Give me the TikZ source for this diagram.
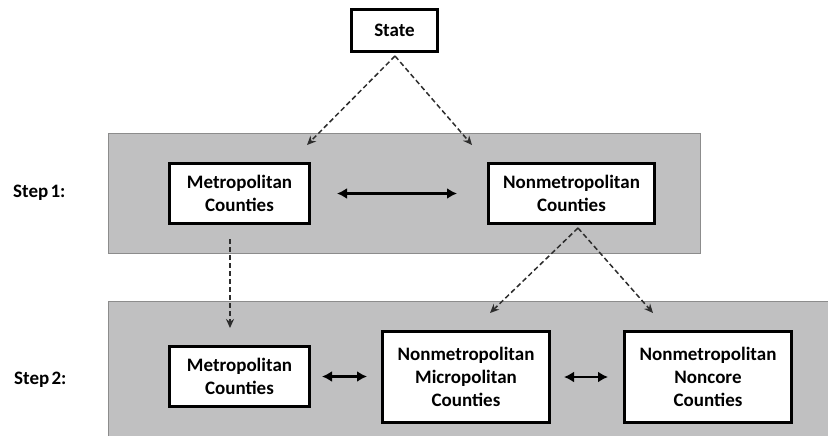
\documentclass[tikz,border=0pt]{standalone}
\usepackage{fontspec}
\setmainfont{Carlito}
\usetikzlibrary{arrows.meta,calc}
\definecolor{panelgray}{RGB}{192,192,193}
\definecolor{panelline}{RGB}{140,140,140}
\definecolor{dashcol}{RGB}{45,45,45}
\tikzset{
  panel/.style={draw=panelline, line width=1pt, fill=panelgray, inner sep=0pt},
  cbox/.style={draw=black, line width=2.6pt, fill=white, inner sep=0pt, align=center,
    font=\fontsize{19}{23.3}\selectfont\bfseries},
  steplabel/.style={anchor=west, inner sep=0pt, font=\fontsize{19}{22}\selectfont\bfseries},
  dasharrow/.style={draw=dashcol, line width=1.5pt, dash pattern=on 5pt off 3pt,
    -{Stealth[length=9pt,width=8pt]}},
  bothway/.style={draw=black, line width=2.5pt, {Latex[length=10pt,width=11pt]}-{Latex[length=10pt,width=11pt]}}
}
\begin{document}
\begin{tikzpicture}[x=1pt,y=-1pt]
\useasboundingbox (0,0) rectangle (828,436);
% panels
\node[panel, minimum width=592pt, minimum height=120pt] (p1) at (404,193) {};
\node[panel, minimum width=722pt, minimum height=139pt] (p2) at (469,370.5) {};
% step labels
\node[steplabel] (s1) at (13,193) {Step\hspace{0.12em}1:};
\node[steplabel] (s2) at (14,380) {Step\hspace{0.12em}2:};
% boxes
\node[cbox, minimum width=86.4pt, minimum height=42.4pt] (state) at (394.5,30.5) {State};
\node[cbox, minimum width=140.4pt, minimum height=60.4pt] (m1) at (239.5,193.5) {Metropolitan\\Counties};
\node[cbox, minimum width=166.4pt, minimum height=60.4pt] (n1) at (571.5,193.5) {Nonmetropolitan\\Counties};
\node[cbox, minimum width=140.4pt, minimum height=60.4pt] (m2) at (239.5,376.5) {Metropolitan\\Counties};
\node[cbox, minimum width=167.4pt, minimum height=91.4pt] (mi2) at (466,377) {Nonmetropolitan\\Micropolitan\\Counties};
\node[cbox, minimum width=167.4pt, minimum height=91.4pt] (nc2) at (708,377) {Nonmetropolitan\\Noncore\\Counties};
% free ends
\coordinate (t1) at (307,145);
\coordinate (t2) at (472,145);
\coordinate (t3) at (230,328);
\coordinate (t4) at (490,313);
\coordinate (t5) at (653,313);
\coordinate (sm) at ($(m1.south)+(-9.5,14)$);
\coordinate (sn) at ($(n1.south)+(6.5,3)$);
\coordinate (ss) at ($(state.south)+(0.5,3)$);
% dashed arrows
\draw[dasharrow] (ss) -- (t1);
\draw[dasharrow] (ss) -- (t2);
\draw[dasharrow] (sm) -- (t3);
\draw[dasharrow] (sn) -- (t4);
\draw[dasharrow] (sn) -- (t5);
% double arrows
\draw[bothway, shorten <=26pt, shorten >=30pt] (m1.east) -- (n1.west);
\draw[bothway, shorten <=11pt, shorten >=14pt] (m2.east) -- (m2.east -| mi2.west);
\draw[bothway, shorten <=13pt, shorten >=15pt] (mi2.east) -- (nc2.west);
\end{tikzpicture}
\end{document}
